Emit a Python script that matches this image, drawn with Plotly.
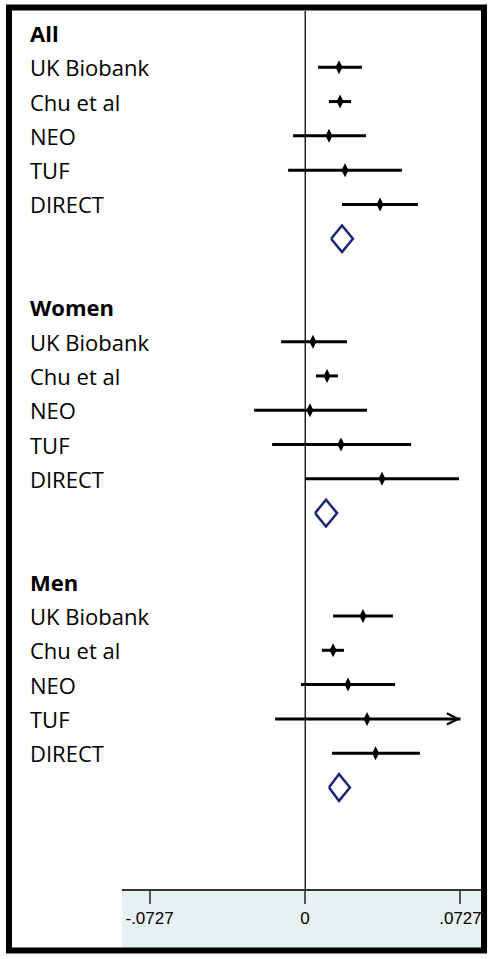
import plotly.graph_objects as go

# ---- data ----
groups = ["All", "Women", "Men"]
studies = ["UK Biobank", "Chu et al", "NEO", "TUF", "DIRECT"]

est_all = [0.0159, 0.0164, 0.0112, 0.0187, 0.0351]
lo_all = [0.0061, 0.0112, -0.0056, -0.0079, 0.0173]
hi_all = [0.0266, 0.0215, 0.0285, 0.0453, 0.0528]
pooled_all = [0.0173, 0.0122, 0.0224]  # est, lo, hi

est_women = [0.0037, 0.0103, 0.0023, 0.0168, 0.0360]
lo_women = [-0.0112, 0.0051, -0.0238, -0.0154, 0.0000]
hi_women = [0.0196, 0.0154, 0.0290, 0.0496, 0.0720]
pooled_women = [0.0098, 0.0047, 0.0150]

est_men = [0.0271, 0.0131, 0.0201, 0.0290, 0.0330]
lo_men = [0.0131, 0.0079, -0.0019, -0.0140, 0.0126]
hi_men = [0.0411, 0.0182, 0.0421, 0.0950, 0.0537]
pooled_men = [0.0159, 0.0112, 0.0210]

tick_vals = [-0.0727, 0, 0.0727]
tick_text = ["-.0727", "0", ".0727"]

# ---- layout constants ----
X_RANGE = [-0.0856, 0.0823]
CLIP = 0.0727
ROW_STEP = 8
Y_RANGE = [24.96, -0.641]
DIAM_H = 0.39
NAVY = "#1b2677"
LABEL_FONT = dict(family="Open Sans, Noto Sans, sans-serif", size=22, color="black")

series = [
    (groups[0], est_all, lo_all, hi_all, pooled_all),
    (groups[1], est_women, lo_women, hi_women, pooled_women),
    (groups[2], est_men, lo_men, hi_men, pooled_men),
]

fig = go.Figure()
annotations = []

for gi, (gname, est, lo, hi, pooled) in enumerate(series):
    base = gi * ROW_STEP
    annotations.append(dict(x=-0.262, xref="paper", y=base, yref="y", text="<b>%s</b>" % gname,
                            showarrow=False, xanchor="left", yanchor="middle", font=LABEL_FONT))
    ys = [base + 1 + i for i in range(len(studies))]
    for name, y in zip(studies, ys):
        annotations.append(dict(x=-0.262, xref="paper", y=y, yref="y", text=name,
                                showarrow=False, xanchor="left", yanchor="middle", font=LABEL_FONT))
    plus = [min(h, CLIP) - e for e, h in zip(est, hi)]
    minus = [e - l for e, l in zip(est, lo)]
    fig.add_trace(go.Scatter(
        x=est, y=ys, mode="markers",
        marker=dict(symbol="diamond-tall", size=10, color="black"),
        error_x=dict(type="data", symmetric=False, array=plus, arrayminus=minus,
                     color="black", thickness=3, width=0),
        showlegend=False, hoverinfo="skip"))
    for e, h, y in zip(est, hi, ys):
        if h > CLIP:
            annotations.append(dict(x=CLIP, y=y, xref="x", yref="y", ax=e, ay=y,
                                    axref="x", ayref="y", showarrow=True, arrowhead=5,
                                    arrowsize=1.1, arrowwidth=2, arrowcolor="black", text=""))
    pe, pl, ph = pooled
    py = base + 6
    fig.add_trace(go.Scatter(
        x=[pl, pe, ph, pe, pl], y=[py, py - DIAM_H, py, py + DIAM_H, py],
        mode="lines", fill="toself", fillcolor="white",
        line=dict(color=NAVY, width=2.5), showlegend=False, hoverinfo="skip"))

fig.update_layout(
    width=491, height=959,
    margin=dict(l=122, r=10, t=11, b=70),
    paper_bgcolor="white", plot_bgcolor="white",
    showlegend=False,
    annotations=annotations,
    xaxis=dict(range=X_RANGE, tickvals=tick_vals, ticktext=tick_text,
               showgrid=False, zeroline=True, zerolinecolor="#222", zerolinewidth=1,
               showline=True, linecolor="#333", linewidth=2,
               ticks="outside", ticklen=13, tickwidth=2, tickcolor="#555",
               tickfont=dict(family="Liberation Sans, Arial, sans-serif", size=17, color="black"),
               fixedrange=True),
    yaxis=dict(range=Y_RANGE, visible=False, showgrid=False, zeroline=False, fixedrange=True),
    shapes=[
        dict(type="rect", xref="paper", yref="paper", x0=0, x1=1.02, y0=-0.0672, y1=0,
             fillcolor="#e8f0f2", line=dict(width=0), layer="below"),
        dict(type="line", xref="x", yref="paper", x0=0, x1=0, y0=0, y1=1,
             line=dict(color="#222", width=1)),
    ],
)

# outer black frame positioned in paper coords
pw = 491 - 122 - 10
ph_ = 959 - 11 - 70
def px_x(p):
    return (p - 122) / pw
def px_y(p):
    return (959 - 70 - p) / ph_
fig.add_shape(type="rect", xref="paper", yref="paper",
              x0=px_x(9), x1=px_x(484), y0=px_y(950.5), y1=px_y(7.5),
              line=dict(color="black", width=6), fillcolor="rgba(0,0,0,0)", layer="above")

fig.write_html("out.html", config={"displayModeBar": False},
               post_script="document.body.style.margin='0px';")
